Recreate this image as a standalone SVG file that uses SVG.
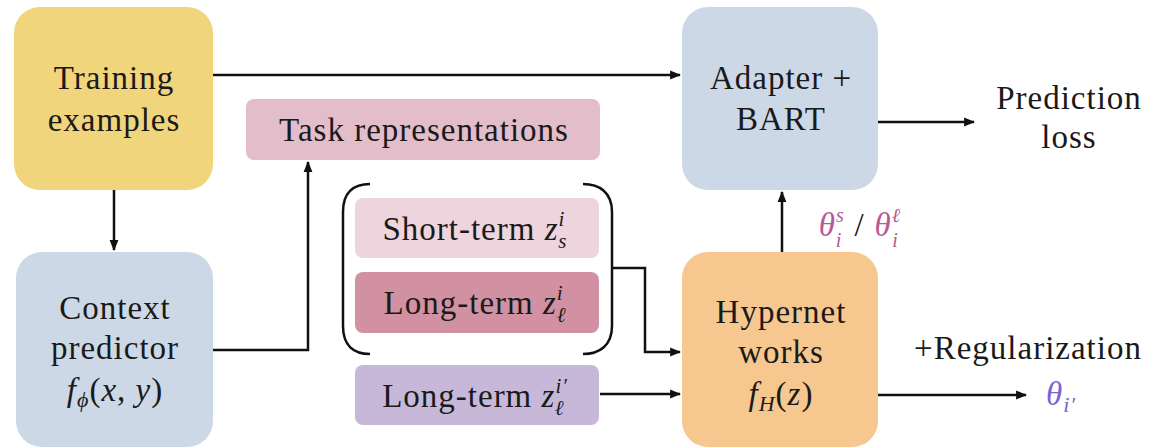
<svg xmlns="http://www.w3.org/2000/svg" width="1154" height="448" viewBox="0 0 1154 448">
<defs>
<marker id="ah" viewBox="0 0 10 10" refX="9" refY="5" markerWidth="11" markerHeight="11" markerUnits="userSpaceOnUse" orient="auto">
<path d="M0,1 L10,5 L0,9 Z" fill="#111"/>
</marker>
<style>
.t{font-family:"Liberation Serif","DejaVu Serif",serif;font-size:33px;letter-spacing:1px;fill:#1a1a1a;text-anchor:middle}
.m{font-style:italic}
.c{fill:none;stroke:#111;stroke-width:2.5}
.th{fill:#b85a92;font-style:italic}
</style>
</defs>
<rect width="1154" height="448" fill="#fff"/>
<g id="training">
<rect x="14" y="7" width="199" height="183" rx="26" fill="#f0d57d"/>
<text class="t" x="114" y="89">Training</text>
<text class="t" x="114" y="131">examples</text>
</g>
<g id="context">
<rect x="16" y="252" width="197" height="195" rx="26" fill="#cdd8e7"/>
<text class="t" x="115" y="319">Context</text>
<text class="t" x="115" y="359">predictor</text>
<text class="t" x="115" y="401"><tspan class="m">f</tspan><tspan class="m" font-size="22" dy="6">ϕ</tspan><tspan dy="-6">(</tspan><tspan class="m">x</tspan>, <tspan class="m">y</tspan>)</text>
</g>
<g id="taskrep">
<rect x="246" y="99" width="354" height="61" rx="8" fill="#e3bdca"/>
<text class="t" x="424" y="141">Task representations</text>
</g>
<g id="shortterm">
<rect x="355" y="198" width="244" height="60" rx="8" fill="#eed4dd"/>
<text class="t" x="475" y="240">Short-term <tspan class="m">z</tspan><tspan class="m" font-size="21" dy="-14">i</tspan><tspan class="m" font-size="21" dx="-7" dy="22">s</tspan></text>
</g>
<g id="longterm">
<rect x="355" y="272" width="244" height="61" rx="8" fill="#d291a3"/>
<text class="t" x="475" y="314">Long-term <tspan class="m">z</tspan><tspan class="m" font-size="21" dy="-14">i</tspan><tspan class="m" font-size="21" dx="-7" dy="22">ℓ</tspan></text>
</g>
<g id="longterm2">
<rect x="355" y="365" width="244" height="60" rx="8" fill="#c7b8da"/>
<text class="t" x="475" y="407">Long-term <tspan class="m">z</tspan><tspan class="m" font-size="21" dy="-14">i′</tspan><tspan class="m" font-size="21" dx="-13" dy="22">ℓ</tspan></text>
</g>
<g id="adapter">
<rect x="682" y="7" width="196" height="183" rx="26" fill="#cdd8e7"/>
<text class="t" x="781" y="89">Adapter +</text>
<text class="t" x="781" y="130">BART</text>
</g>
<g id="hypernet">
<rect x="682" y="252" width="196" height="195" rx="26" fill="#f6c78f"/>
<text class="t" x="781" y="323">Hypernet</text>
<text class="t" x="781" y="363">works</text>
<text class="t" x="781" y="405"><tspan class="m">f</tspan><tspan class="m" font-size="22" dy="6">H</tspan><tspan dy="-6">(</tspan><tspan class="m">z</tspan>)</text>
</g>
<g id="predloss">
<text class="t" x="1069" y="109">Prediction</text>
<text class="t" x="1069" y="148">loss</text>
</g>
<g id="labels">
<text class="t" x="860" y="236" font-size="37"><tspan class="th">θ</tspan><tspan class="th" font-size="20" dy="-14">s</tspan><tspan class="th" font-size="20" dx="-9" dy="25">i</tspan><tspan dy="-11" dx="12">/</tspan><tspan class="th" dx="10">θ</tspan><tspan class="th" font-size="20" dy="-14">ℓ</tspan><tspan class="th" font-size="20" dx="-9" dy="25">i</tspan></text>
<text class="t" x="1028" y="359">+Regularization</text>
<text class="t" x="1061" y="405" font-size="35"><tspan class="m" fill="#7a62d0">θ</tspan><tspan class="m" fill="#7a62d0" font-size="22" dy="7">i′</tspan></text>
</g>
<g id="connectors">
<path class="c" d="M213,75 H680" marker-end="url(#ah)"/>
<path class="c" d="M114,190 V250" marker-end="url(#ah)"/>
<path class="c" d="M213,350 H308 V162" marker-end="url(#ah)"/>
<path class="c" d="M878,122 H974" marker-end="url(#ah)"/>
<path class="c" d="M782,252 V192" marker-end="url(#ah)"/>
<path class="c" d="M878,395 H1026" marker-end="url(#ah)"/>
<path class="c" d="M612,268 H645 V352 H680" marker-end="url(#ah)"/>
<path class="c" d="M600,394 H680" marker-end="url(#ah)"/>
<path class="c" d="M370,184 C354,184 343,192 343,212 V326 C343,346 354,354 370,354"/>
<path class="c" d="M583,184 C599,184 612,192 612,212 V326 C612,346 599,354 583,354"/>
</g>
</svg>
